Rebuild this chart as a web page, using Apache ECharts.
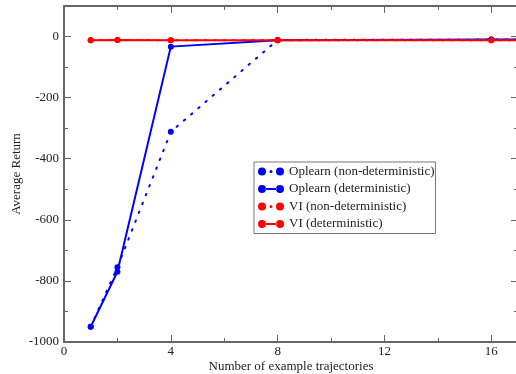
<!DOCTYPE html>
<html><head><meta charset="utf-8">
<script src="https://cdn.jsdelivr.net/npm/echarts@6/dist/echarts.min.js"></script>
<style>html,body{margin:0;padding:0;background:#fff}#c{width:516px;height:374px}</style>
</head><body><div id="c"></div>
<script>
const xValues = [1, 2, 4, 8, 16, 32];
const oplearnNonDet = [-950, -755, -312, -11, -10, -10];
const oplearnDet = [-950, -770, -33, -12, -10, -10];
const viNonDet = [-12, -11, -12, -12, -12, -12];
const viDet = [-12, -11, -12, -12, -12, -12];
const seriesNames = ['Oplearn (non-deterministic)', 'Oplearn (deterministic)', 'VI (non-deterministic)', 'VI (deterministic)'];
const xTicks = [0, 4, 8, 12, 16];
const yTicks = [-1000, -800, -600, -400, -200, 0];

const font = 'Liberation Serif';
const axisCol = '#666';
const iconSolid = 'path://M0,4a4,4 0 1,0 8,0a4,4 0 1,0 -8,0Z M18,4a4,4 0 1,0 8,0a4,4 0 1,0 -8,0Z M7.5,3L18.5,3L18.5,5L7.5,5Z';
const iconDot = 'path://M0,4a4,4 0 1,0 8,0a4,4 0 1,0 -8,0Z M18,4a4,4 0 1,0 8,0a4,4 0 1,0 -8,0Z M11.5,4a1.5,1.5 0 1,0 3,0a1.5,1.5 0 1,0 -3,0Z';
function pairs(v){ return xValues.map((x,i)=>[x,v[i]]); }
function mk(name, vals, color, dotted, z){
  return {
    name, type:'line', data: pairs(vals), z,
    symbol:'circle', symbolSize: 6, clip:true,
    itemStyle:{color},
    lineStyle:{color, width:2, type: dotted ? [1.5,8] : 'solid', cap: dotted?'round':'butt'}
  };
}
const chart = echarts.init(document.getElementById('c'), null, {renderer:'canvas'});
chart.setOption({
  animation:false,
  grid:{left:64, width:454, top:6, bottom:32, containLabel:false, outerBoundsMode:'none'},
  legend:{
    orient:'vertical', left:254, top:162, width:185,
    backgroundColor:'#fff', borderColor:'#777', borderWidth:1,
    padding:[3,1,3,4], itemGap:4.5, itemWidth:26, itemHeight:8, itemTextGap:4,
    textStyle:{fontFamily:font, fontSize:13, color:'#222'},
    data: [
      {name:seriesNames[0], icon:iconDot},
      {name:seriesNames[1], icon:iconSolid},
      {name:seriesNames[2], icon:iconDot},
      {name:seriesNames[3], icon:iconSolid}
    ]
  },
  xAxis:[{
    type:'value', min:0, max:17, interval:4,
    name:'Number of example trajectories', nameLocation:'middle', nameGap:18, nameMoveOverlap:false,
    nameTextStyle:{fontFamily:font, fontSize:13, color:'#222'},
    axisLine:{show:true, onZero:false, lineStyle:{color:axisCol, width:2}},
    axisTick:{show:true, inside:true, length:7, lineStyle:{color:axisCol}},
    minorTick:{show:true, splitNumber:2, length:4, lineStyle:{color:axisCol}},
    axisLabel:{fontFamily:font, fontSize:13, color:'#222', margin:3,
      formatter:v=> xTicks.includes(v)? String(v):''},
    splitLine:{show:false}
  },{
    type:'value', position:'top', min:0, max:17, interval:4,
    axisLine:{show:true, onZero:false, lineStyle:{color:axisCol, width:2}},
    axisTick:{show:true, inside:true, length:7, lineStyle:{color:axisCol}},
    minorTick:{show:true, splitNumber:2, length:4, lineStyle:{color:axisCol}},
    axisLabel:{show:false}, splitLine:{show:false}
  }],
  yAxis:[{
    type:'value', min:-1000, max:100, interval:200,
    name:'Average Return', nameLocation:'middle', nameGap:41, nameMoveOverlap:false,
    nameTextStyle:{fontFamily:font, fontSize:13, color:'#222'},
    axisLine:{show:true, onZero:false, lineStyle:{color:axisCol, width:2}},
    axisTick:{show:true, inside:true, length:7, lineStyle:{color:axisCol}},
    minorTick:{show:true, splitNumber:2, length:4, lineStyle:{color:axisCol}},
    axisLabel:{fontFamily:font, fontSize:13, color:'#222', margin:5,
      formatter:v=> yTicks.includes(v)? String(v):''},
    splitLine:{show:false}
  },{
    type:'value', position:'right', min:-1000, max:100, interval:200,
    axisLine:{show:true, onZero:false, lineStyle:{color:axisCol, width:2}},
    axisTick:{show:true, inside:true, length:7, lineStyle:{color:axisCol}},
    minorTick:{show:true, splitNumber:2, length:4, lineStyle:{color:axisCol}},
    axisLabel:{show:false}, splitLine:{show:false}
  }],
  series:[
    mk(seriesNames[0], oplearnNonDet, '#0000ff', true, 2),
    mk(seriesNames[1], oplearnDet, '#0000ff', false, 3),
    mk(seriesNames[2], viNonDet, '#ff0000', true, 4),
    mk(seriesNames[3], viDet, '#ff0000', false, 5)
  ]
});
</script></body></html>
